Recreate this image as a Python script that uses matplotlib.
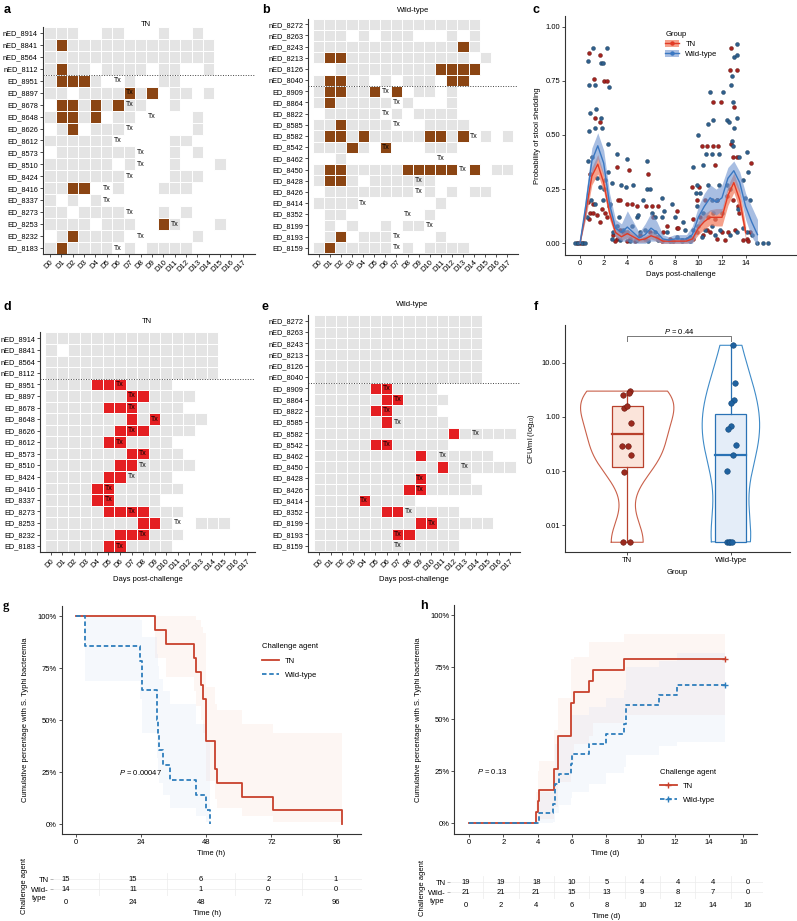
"""Culture results, stool shedding, CFU counts and time to bacteraemia: TN vs wild-type challenge."""
import numpy as np
import matplotlib
matplotlib.use("Agg")
import matplotlib.pyplot as plt
from matplotlib.patches import Rectangle, Patch
from matplotlib.lines import Line2D
from matplotlib.ticker import NullLocator, FixedLocator

plt.rcParams["font.family"] = ["Liberation Sans", "DejaVu Sans"]
plt.rcParams["font.size"] = 5.5
plt.rcParams["mathtext.fontset"] = "custom"
plt.rcParams["mathtext.rm"] = "Liberation Sans"
plt.rcParams["mathtext.it"] = "Liberation Sans:italic"

W, H = 797, 921
DAYS = [f"D{i}" for i in range(18)]

# ── panels a / d: TN participants ('.' no sample, 'g' negative, 'P' positive) ──
TN_IDS = ["nED_8914", "nED_8841", "nED_8564", "nED_8112", "ED_8951", "ED_8897",
          "ED_8678", "ED_8648", "ED_8626", "ED_8612", "ED_8573", "ED_8510",
          "ED_8424", "ED_8416", "ED_8337", "ED_8273", "ED_8253", "ED_8232", "ED_8183"]
TN_STOOL = ["ggg..gg...g..g....", "gPggggggggggggg...", "ggggggggggggggg...",
            "gPgg.gggg.gg..g...", "gPPPg..g..gg......", "gg.ggggPgP.gg.g...",
            ".PPgPgPgg..g......", "gPPgP.gg.....g....", ".gP.ggg......g....",
            "gggggg.....gg.....", ".ggggggg...g.g....", "gggggg.g...g...g..",
            "ggggggg....ggg....", "ggPP..g...ggg.....", "g.g.g.............",
            "gg.gggg...g.g.....", "gggg.ggg..Pg...g..", ".gPgggg......g....",
            "gPgggg.g.gggg....."]
TN_BLOOD = ["ggggggggggggggg...", "g.ggggggggggggg...", "ggggggggggggggg...",
            "ggggggggggggggg...", "ggggPPPgggg.......", "gggggggPPgggg.....",
            "gggggPPPgggg......", "gggggggPgPgggg....", "ggggggPPPgggg.....",
            "gggggPPgggg.......", "gggggggPPggg......", "ggggggPPggggg.....",
            "gggggPPgggg.......", "ggggPPgggggg......", "ggggPPgggg........",
            "gggggPPPPggg......", "ggggggggPPg..ggg..", "ggggggPPPggg......",
            "gggggPPgggg......."]
TN_TX = [None, None, None, None, 6, 7, 7, 9, 7, 6, 8, 8, 7, 5, 5, 7, 11, 8, 6]

# ── panels b / e: wild-type participants ──
WT_IDS = ["nED_8272", "nED_8263", "nED_8243", "nED_8213", "nED_8126", "nED_8040",
          "ED_8909", "ED_8864", "ED_8822", "ED_8585", "ED_8582", "ED_8542",
          "ED_8462", "ED_8450", "ED_8428", "ED_8426", "ED_8414", "ED_8352",
          "ED_8199", "ED_8193", "ED_8159"]
WT_STOOL = ["ggggggggggggggg...", "ggg.g.ggg...g.g...", "gggggggggggggPg...",
            "gPPggggggggggg.g..", "..gggggggggPPPP...", "gPPgg.g.ggg.PP....",
            "gPPggP.P.gg.g.....", "gPggggg.g...g.....", ".ggggg.g.gggg.....",
            "ggPgggg...gggg....", "gPPgPgggggPPgP.g.g", "gggPg.P...ggg.....",
            "..g...............", "gPPgggggPPPPP.P.gg", "gPPg.gggggg.......",
            ".gggggggg.g.g.gg..", "gggg.......g......", ".gg.......g.......",
            ".g.g..g.gg........", ".gP.ggg....g......", "gPggggg.g.gggg...."]
WT_BLOOD = ["ggggggggggggggg...", "ggggggggggggggg...", "ggggggggggggggg...",
            "ggggggggggggggg...", "ggggggggggggggg...", "ggggggggggggggg...",
            "gggggPPgggg.......", "ggggggPPgggg......", "gggggPPgggg.......",
            "ggggggPggggg......", "ggggggggggggPggggg", "gggggPPggggg......",
            "gggggggggPgggggg..", "gggggggggggPgggggg", "gggggggggPgggg....",
            "ggggggggPPggggg...", "ggggPgggg.........", "ggggggPPggggg.....",
            "gggggggggPPggggg..", "gggggggPPgggg.....", "ggggggggggggg....."]
WT_TX = [None] * 6 + [6, 7, 6, 7, 14, 6, 11, 13, 9, 9, 4, 8, 10, 7, 7]

# ── panel c: probability of stool shedding ──
TN_C_DAY = [-0.28, 0.0, 0.28,
            0.79, 1.18, 1.69, 2.03, 2.25, 1.27, 1.69, 0.85, 0.70, 0.85, 1.13, 1.41, 1.69, 0.79, 2.11, 2.31, 1.07, 1.83,
            3.15, 3.24, 3.38, 4.11, 3.94, 4.37, 2.82, 3.10, 3.66, 4.23, 3.38, 2.96, 3.94,
            4.85, 5.58, 5.77, 6.06, 6.62, 6.20, 5.07, 5.49, 5.92, 6.48, 6.90, 4.65, 7.04,
            7.38, 8.23, 8.17, 8.31, 7.61, 8.59, 9.01, 7.89,
            9.44, 10.28, 10.70, 11.27, 11.69, 11.21, 11.89, 11.41, 10.08, 9.86, 10.56, 11.55, 9.58, 10.14, 10.85,
            11.41, 9.86, 10.42, 10.99, 11.55, 11.97, 9.58, 10.70,
            12.76, 12.68, 13.24, 13.01, 12.76, 12.90, 13.24, 12.39, 12.96, 13.38, 13.46, 14.42, 14.37, 14.08,
            12.54, 13.10, 13.80, 12.25, 14.23]
TN_C_PROB = [0, 0, 0,
             0.88, 0.76, 0.87, 0.75, 0.75, 0.58, 0.56, 0.32, 0.19, 0.14, 0.14, 0.13, 0.10, 0.11, 0.14, 0.12, 0.18, 0.16,
             0.35, 0.20, 0.20, 0.34, 0.18, 0.18, 0.04, 0.02, 0.05, 0.02, 0.06, 0.01, 0.01,
             0.17, 0.17, 0.32, 0.17, 0.17, 0.12, 0.04, 0.02, 0.05, 0.03, 0.01, 0.01, 0.05,
             0.08, 0.15, 0.07, 0.07, 0.02, 0.015, 0.02, 0.01,
             0.26, 0.45, 0.45, 0.45, 0.45, 0.65, 0.65, 0.36, 0.26, 0.20, 0.20, 0.20, 0.11, 0.12, 0.12,
             0.11, 0.05, 0.04, 0.05, 0.02, 0.05, 0.02, 0.06,
             0.90, 0.80, 0.80, 0.63, 0.46, 0.40, 0.40, 0.22, 0.20, 0.17, 0.14, 0.37, 0.05, 0.02,
             0.05, 0.06, 0.015, 0.015, 0.01]
WT_C_DAY = [-0.42, -0.14, 0.14, 0.42,
            0.70, 1.07, 0.79, 1.27, 1.75, 1.97, 2.31, 2.45, 0.85, 1.32, 0.79, 1.27, 1.77, 1.83, 2.39,
            0.70, 0.99, 1.41, 1.69, 2.11, 0.56, 0.93, 1.30, 1.92, 2.54, 2.39, 2.03, 2.45,
            3.10, 4.00, 3.44, 3.89, 4.45, 2.70, 3.32, 3.10, 3.66, 3.94, 4.37, 2.82, 3.38, 4.23, 2.68,
            5.69, 5.69, 5.92, 5.35, 6.06, 6.34, 4.79, 4.93, 6.90, 6.90, 5.07, 5.49, 6.34, 6.62, 5.77, 4.79,
            7.75, 7.10, 8.03, 8.68, 8.87, 7.32, 8.17, 8.59, 9.30, 7.61,
            10.00, 10.99, 12.06, 10.85, 11.21, 10.65, 11.13, 11.77, 9.58, 10.42, 9.86, 10.85, 11.77, 9.80, 10.14,
            11.13, 11.55, 9.86, 10.42, 11.27, 11.97, 9.58, 10.00, 10.56, 11.13, 11.83, 10.28, 11.41, 9.30,
            13.24, 13.01, 13.30, 12.76, 12.82, 12.90, 12.39, 12.62, 13.24, 13.01, 12.82, 12.96, 13.46, 14.08, 14.23,
            13.80, 12.39, 12.68, 14.37, 13.38, 13.94, 13.80, 14.08, 14.51, 12.68, 13.24, 14.93, 15.49, 15.92]
WT_C_PROB = [0, 0, 0, 0,
             0.84, 0.90, 0.73, 0.73, 0.83, 0.83, 0.90, 0.72, 0.60, 0.62, 0.52, 0.53, 0.58, 0.53, 0.46,
             0.38, 0.40, 0.30, 0.26, 0.29, 0.12, 0.20, 0.18, 0.20, 0.18, 0.33, 0.25, 0.17,
             0.41, 0.39, 0.27, 0.26, 0.27, 0.28, 0.12, 0.08, 0.06, 0.05, 0.08, 0.05, 0.015, 0.01, 0.02,
             0.38, 0.25, 0.25, 0.20, 0.14, 0.12, 0.12, 0.13, 0.21, 0.12, 0.05, 0.06, 0.05, 0.015, 0.01, 0.015,
             0.18, 0.15, 0.12, 0.10, 0.06, 0.05, 0.03, 0.01, 0.03, 0.01,
             0.50, 0.70, 0.70, 0.55, 0.57, 0.41, 0.41, 0.41, 0.35, 0.36, 0.27, 0.27, 0.27, 0.23, 0.23,
             0.20, 0.20, 0.17, 0.14, 0.14, 0.14, 0.06, 0.08, 0.06, 0.08, 0.06, 0.03, 0.04, 0.01,
             0.92, 0.86, 0.87, 0.73, 0.77, 0.65, 0.57, 0.56, 0.58, 0.53, 0.47, 0.45, 0.40, 0.42, 0.33,
             0.29, 0.27, 0.25, 0.20, 0.16, 0.21, 0.07, 0.05, 0.04, 0.04, 0.05, 0, 0, 0]

# smoothed fits (read every half day)
TN_FIT_DAY = [0, 0.5, 1, 1.5, 2, 2.5, 3, 3.5, 4, 4.5, 5, 5.5, 6, 6.5, 7, 7.5, 8, 8.5, 9, 9.5,
              10, 10.5, 11, 11.5, 12, 12.5, 13, 13.5, 14]
TN_FIT = [0, 0.15, 0.31, 0.365, 0.28, 0.14, 0.05, 0.03, 0.045, 0.03, 0.015, 0.02, 0.035, 0.025, 0.01,
          0.01, 0.01, 0.01, 0.01, 0.02, 0.07, 0.10, 0.12, 0.12, 0.12, 0.22, 0.28, 0.20, 0.05]
TN_FIT_LO = [0, 0.12, 0.27, 0.32, 0.24, 0.11, 0.03, 0.015, 0.025, 0.015, 0.005, 0.005, 0.02, 0.01, 0.0,
             0.0, 0.0, 0.0, 0.0, 0.005, 0.04, 0.065, 0.085, 0.08, 0.08, 0.175, 0.235, 0.155, 0.02]
TN_FIT_HI = [0, 0.18, 0.35, 0.41, 0.32, 0.17, 0.07, 0.045, 0.065, 0.045, 0.025, 0.035, 0.05, 0.04, 0.02,
             0.02, 0.02, 0.02, 0.02, 0.035, 0.10, 0.135, 0.155, 0.16, 0.16, 0.265, 0.325, 0.245, 0.08]
WT_FIT_DAY = [0, 0.5, 1, 1.5, 2, 2.5, 3, 3.5, 4, 4.5, 5, 5.5, 6, 6.5, 7, 7.5, 8, 8.5, 9, 9.5,
              10, 10.5, 11, 11.5, 12, 12.5, 13, 13.5, 14, 14.5, 15]
WT_FIT = [0, 0.18, 0.38, 0.45, 0.37, 0.18, 0.07, 0.05, 0.075, 0.05, 0.025, 0.04, 0.07, 0.05, 0.02, 0.015,
          0.02, 0.02, 0.02, 0.04, 0.12, 0.17, 0.21, 0.19, 0.21, 0.30, 0.335, 0.28, 0.17, 0.10, 0.04]
WT_FIT_LO = [0, 0.13, 0.32, 0.39, 0.31, 0.13, 0.03, 0.01, 0.01, 0.0, 0.0, 0.0, 0.01, 0.01, 0.0, 0.0,
             0.0, 0.0, 0.0, 0.0, 0.07, 0.11, 0.15, 0.13, 0.15, 0.25, 0.29, 0.23, 0.11, 0.03, -0.01]
WT_FIT_HI = [0, 0.23, 0.44, 0.51, 0.43, 0.23, 0.11, 0.09, 0.15, 0.10, 0.05, 0.09, 0.14, 0.10, 0.04, 0.03,
             0.04, 0.04, 0.04, 0.08, 0.17, 0.23, 0.27, 0.25, 0.27, 0.35, 0.38, 0.33, 0.23, 0.17, 0.11]

# ── panel f: CFU/ml ──
TN_CFU = [2.57, 3.0, 2.76, 1.48, 1.59, 0.79, 0.295, 0.295, 0.2, 0.098, 0.0049, 0.0049]
TN_CFU_JIT = [-0.045, 0.026, 0.019, -0.032, 0.0, 0.038, -0.051, 0.006, 0.032, -0.032, -0.038, 0.026]
WT_CFU = [21, 4.3, 2.07, 1.78, 0.69, 0.59, 0.30, 0.20, 0.10, 0.005, 0.005, 0.005, 0.005]
WT_CFU_JIT = [0.019, 0.035, 0.029, 0.003, 0.003, -0.029, 0.045, 0.022, -0.042, -0.042, -0.022, -0.01, 0.01]
BOX_LO = [0.0049, 0.005]
BOX_Q1 = [0.118, 0.005]
BOX_MED = [0.48, 0.20]
BOX_Q3 = [1.57, 1.12]
BOX_HI = [3.0, 21.0]

# ── panel g: time to bacteraemia (h) ──
G_TN_T = [0, 29.0, 33.2, 43.4, 44.3, 46.0, 46.8, 47.8, 51.2, 51.8, 61.0, 72.5, 98.0]
G_TN_S = [100, 93.3, 86.7, 80.0, 73.3, 66.7, 60.0, 40.0, 26.7, 20.0, 13.3, 6.7, 0.0]
G_TN_HI = [100, 100, 100, 100, 98, 95, 92, 66, 58, 55, 48, 44, 44]
G_TN_LO = [100, 80, 71, 64, 57, 50, 44, 21, 12, 8, 4, 1, 1]
G_WT_T = [0, 3.3, 23.5, 24.4, 29.7, 30.0, 30.3, 30.6, 31.9, 34.7, 44.2, 47.7, 49.2]
G_WT_S = [100, 85.7, 78.6, 64.3, 57.1, 50.0, 42.9, 35.7, 28.6, 21.4, 14.3, 7.1, 0.0]
G_WT_HI = [100, 100, 98, 90, 86, 82, 76, 70, 64, 58, 48, 40, 40]
G_WT_LO = [100, 69, 60, 44, 38, 32, 26, 20, 14, 8, 4, 1, 1]
G_RISK_T = [0, 24, 48, 72, 96]
G_RISK_TN = [15, 15, 6, 2, 1]
G_RISK_WT = [14, 11, 1, 0, 0]

# ── panel h: time to bacteraemia (d) ──
H_TN_T = [0, 3.9, 4.0, 4.1, 4.96, 5.2, 5.93, 5.97, 6.1, 7.0, 7.2, 9.05, 14.9]
H_TN_C = [0, 5.3, 10.5, 15.8, 26.3, 42.1, 47.4, 57.9, 63.2, 68.4, 73.7, 78.9, 78.9]
H_TN_HI = [0, 15, 25, 30, 45, 60, 70, 79, 80, 87, 87, 91, 91]
H_TN_LO = [0, 0, 0, 2, 8, 20, 24, 30, 38, 42, 48, 52, 52]
H_WT_T = [0, 4.1, 4.92, 5.0, 5.27, 5.93, 6.03, 7.0, 8.0, 9.05, 9.16, 11.1, 12.1, 14.9]
H_WT_C = [0, 4.8, 9.5, 19.0, 23.8, 28.6, 33.3, 38.1, 42.9, 47.6, 57.1, 61.9, 66.7, 66.7]
H_WT_HI = [0, 15, 23, 38, 42, 48, 52, 56, 60, 64, 75, 78, 82, 82]
H_WT_LO = [0, 0, 0.5, 5, 9, 12, 15, 19, 24, 27, 33, 37, 39, 39]
H_RISK_T = [0, 2, 4, 6, 8, 10, 12, 14, 16]
H_RISK_TN = [19, 19, 18, 10, 5, 4, 4, 4, 0]
H_RISK_WT = [21, 21, 21, 15, 13, 9, 8, 7, 0]

GREY = "#e4e4e4"
BROWN = "#8b4513"
RED = "#e41f22"
TN_COL, WT_COL = "#c8412c", "#2e7ebc"
TN_RIB, WT_RIB = "#f6d5c4", "#cddcf3"
AX_COL = "#333333"

fig = plt.figure(figsize=(W / 100, H / 100), dpi=100)


def add_ax(left, top, right, bottom):
    return fig.add_axes([left / W, 1 - bottom / H, (right - left) / W, (bottom - top) / H])


def ftext(x, y, s, **kw):
    fig.text(x / W, 1 - y / H, s, **kw)


def style(ax):
    for s in ("top", "right"):
        ax.spines[s].set_visible(False)
    for s in ("left", "bottom"):
        ax.spines[s].set_linewidth(0.8)
        ax.spines[s].set_color(AX_COL)
    ax.tick_params(length=2, width=0.6, labelsize=5.5, pad=1.5, color=AX_COL)


def culture_grid(ax, ids, codes, tx, pos_color, n_ctrl, xlim, ylim):
    for r, row in enumerate(codes):
        for c, ch in enumerate(row.ljust(18, ".")):
            if ch == ".":
                continue
            fc = GREY if ch == "g" else pos_color
            ax.add_patch(Rectangle((c - 0.5, r - 0.5), 1, 1, facecolor=fc,
                                   edgecolor="white", linewidth=0.7))
        if tx[r] is not None:
            ax.text(tx[r], r, "Tx", ha="center", va="center", fontsize=5)
    ax.axhline(n_ctrl - 0.5, color="#444444", linestyle=(0, (1, 1.6)), linewidth=0.7)
    ax.set_xlim(*xlim)
    ax.set_ylim(*ylim)
    ax.set_yticks(range(len(ids)))
    ax.set_yticklabels(ids)
    ax.set_xticks(range(18))
    ax.set_xticklabels(DAYS, rotation=45, ha="right", rotation_mode="anchor")
    style(ax)
    ax.tick_params(axis="y", labelsize=5.3)


# a
ax = add_ax(42.7, 27, 255, 254)
culture_grid(ax, TN_IDS, TN_STOOL, TN_TX, BROWN, 4, (-0.65, 18.1), (18.5, -0.5))
ftext(146, 25, "TN", ha="center", va="center")
# b
ax = add_ax(308.3, 18.7, 518, 254)
culture_grid(ax, WT_IDS, WT_STOOL, WT_TX, BROWN, 6, (-0.94, 17.95), (20.56, -0.5))
ftext(413, 10.7, "Wild-type", ha="center", va="center")
# d
ax = add_ax(40, 332.5, 255, 552.3)
culture_grid(ax, TN_IDS, TN_BLOOD, TN_TX, RED, 4, (-0.93, 17.7), (18.54, -0.5))
ax.set_xlabel("Days post-challenge", fontsize=5.5, labelpad=3)
ftext(146.7, 321.7, "TN", ha="center", va="center")
# e
ax = add_ax(308.3, 315.4, 520, 552.3)
culture_grid(ax, WT_IDS, WT_BLOOD, WT_TX, RED, 6, (-0.98, 17.9), (20.6, -0.5))
ax.set_xlabel("Days post-challenge", fontsize=5.5, labelpad=3)
ftext(411.7, 305, "Wild-type", ha="center", va="center")

# c
ax = add_ax(565, 16, 797, 255)
ax.scatter(TN_C_DAY, TN_C_PROB, s=8, c="#a3231f", edgecolors="#5e1410", linewidths=0.3, zorder=2)
ax.scatter(WT_C_DAY, WT_C_PROB, s=8, c="#2f5f8c", edgecolors="#1b3a57", linewidths=0.3, zorder=2)
ax.fill_between(TN_FIT_DAY, TN_FIT_LO, TN_FIT_HI, color="#f2795a", alpha=0.7, lw=0, zorder=3)
ax.fill_between(WT_FIT_DAY, WT_FIT_LO, WT_FIT_HI, color="#6f93cf", alpha=0.6, lw=0, zorder=3)
ax.plot(TN_FIT_DAY, TN_FIT, color="#e23b26", lw=1.0, zorder=4)
ax.plot(WT_FIT_DAY, WT_FIT, color="#3b78c2", lw=1.0, zorder=4)
ax.set_xlim(-1.27, 18.34)
ax.set_ylim(-0.054, 1.049)
ax.set_xticks(range(0, 15, 2))
ax.set_yticks([0, 0.25, 0.5, 0.75, 1.0])
ax.set_yticklabels(["0.00", "0.25", "0.50", "0.75", "1.00"])
ax.set_xlabel("Days post-challenge", fontsize=5.5, labelpad=3)
ax.set_ylabel("Probability of stool shedding", fontsize=5.5, labelpad=3)
style(ax)
handles = [(Patch(facecolor="#f2795a", alpha=0.7), Line2D([], [], color="#e23b26", lw=1.0, marker="o", ms=2.2)),
           (Patch(facecolor="#6f93cf", alpha=0.6), Line2D([], [], color="#3b78c2", lw=1.0, marker="o", ms=2.2))]
leg = ax.legend(handles, ["TN", "Wild-type"], title="Group", loc="upper left", bbox_to_anchor=(0.42, 0.95),
                frameon=False, fontsize=5.5, title_fontsize=5.5, handlelength=1.8, handleheight=1.2,
                labelspacing=0.2, borderaxespad=0)
leg._legend_box.align = "left"

# f
ax = add_ax(565, 325, 790, 552)
ax.set_yscale("log")
tn_log = np.log10(TN_CFU)
wt_log = np.log10(WT_CFU)


def kde(lv, grid):
    n = len(lv)
    iqr = np.subtract(*np.percentile(lv, [75, 25]))
    bw = 0.9 * min(lv.std(ddof=1), iqr / 1.34) * n ** -0.2
    z = (grid[:, None] - lv[None, :]) / bw
    return np.exp(-0.5 * z ** 2).sum(1) / (n * bw * np.sqrt(2 * np.pi))


grids = [np.linspace(v.min(), v.max(), 300) for v in (tn_log, wt_log)]
dens = [kde(v, g) for v, g in zip((tn_log, wt_log), grids)]
dmax = max(d.max() for d in dens)
for i, (g, d, col, fill, ecol, vals, jit) in enumerate([
        (grids[0], dens[0], "#c9604a", "#fbe4da", "#b8402c", TN_CFU, TN_CFU_JIT),
        (grids[1], dens[1], "#3f8bc8", "#e4edf8", "#2a72b5", WT_CFU, WT_CFU_JIT)]):
    x0 = i + 1
    half = 0.45 * d / dmax
    ys = 10 ** g
    ax.plot(np.concatenate([x0 - half, (x0 + half)[::-1], [x0 - half[0]]]),
            np.concatenate([ys, ys[::-1], [ys[0]]]), color=col, lw=0.8)
    ax.add_patch(Rectangle((x0 - 0.15, BOX_Q1[i]), 0.3, BOX_Q3[i] - BOX_Q1[i],
                           facecolor=fill, edgecolor=ecol, lw=0.9, zorder=2))
    ax.plot([x0 - 0.15, x0 + 0.15], [BOX_MED[i]] * 2, color=ecol, lw=1.6, zorder=3)
    ax.plot([x0, x0], [BOX_LO[i], BOX_Q1[i]], color=ecol, lw=0.9, zorder=2)
    ax.plot([x0, x0], [BOX_Q3[i], BOX_HI[i]], color=ecol, lw=0.9, zorder=2)
    pc = "#9b2a1e" if i == 0 else "#1f62a0"
    pe = "#6b1b12" if i == 0 else "#164a7a"
    ax.scatter(np.array(jit) + x0, vals, s=16, c=pc, edgecolors=pe, linewidths=0.4, zorder=4)
ax.plot([1, 1, 2, 2], [25, 31.5, 31.5, 25], color="#777777", lw=0.7)
ax.text(1.5, 38.5, r"$\it{P}$ = 0.44", ha="center", va="center", fontsize=5.5)
ax.set_xlim(0.4, 2.57)
ax.set_ylim(0.00324, 49.7)
ax.yaxis.set_major_locator(FixedLocator([0.01, 0.1, 1, 10]))
ax.yaxis.set_minor_locator(NullLocator())
ax.set_yticklabels(["0.01", "0.10", "1.00", "10.00"])
ax.set_xticks([1, 2])
ax.set_xticklabels(["TN", "Wild-type"])
ax.set_xlabel("Group", fontsize=5.5, labelpad=4)
ax.set_ylabel(r"CFU/ml (log$_{10}$)", fontsize=5.5, labelpad=3)
style(ax)


def risk_table(ax, times, tn, wt, xlim, minor, xlabel):
    for t, a, b in zip(times, tn, wt):
        ax.text(t, 2, str(a), ha="center", va="center", fontsize=5.5)
        ax.text(t, 1, str(b), ha="center", va="center", fontsize=5.5)
    for y in (1, 2):
        ax.axhline(y, color="#ececec", lw=0.5, zorder=0)
    for m in minor:
        ax.axvline(m, color="#ececec", lw=0.5, zorder=0)
    ax.set_xlim(*xlim)
    ax.set_ylim(0.3, 2.6)
    ax.set_xticks(times)
    ax.set_yticks([1, 2])
    ax.set_yticklabels(["Wild-", "TN"])
    for s in ax.spines.values():
        s.set_visible(False)
    ax.tick_params(axis="x", length=0, labelsize=5.5, pad=2)
    ax.tick_params(axis="y", length=2, width=0.5, labelsize=5.5, pad=1, color="#999999")
    ax.set_xlabel(xlabel, fontsize=5.5, labelpad=3)


# g
ax = add_ax(61.7, 606, 361, 834.3)
ax.fill_between(G_TN_T, G_TN_LO, G_TN_HI, step="post", color=TN_RIB, alpha=0.2, lw=0)
ax.fill_between(G_WT_T, G_WT_LO, G_WT_HI, step="post", color=WT_RIB, alpha=0.2, lw=0)
ax.step(G_TN_T, G_TN_S, where="post", color=TN_COL, lw=1.3)
ax.step(G_WT_T, G_WT_S, where="post", color=WT_COL, lw=1.3, linestyle=(0, (2.5, 1.5)))
ax.set_xlim(-5.3, 105)
ax.set_ylim(-4.8, 104.9)
ax.set_xticks(G_RISK_T)
ax.set_yticks([0, 25, 50, 75, 100])
ax.set_yticklabels(["0%", "25%", "50%", "75%", "100%"])
ax.set_xlabel("Time (h)", fontsize=5.5, labelpad=3)
ax.set_ylabel("Cumulative percentage with S. Typhi bacteremia", fontsize=5.5, labelpad=6)
style(ax)
ax.text(16, 25, r"$\it{P}$ = 0.00047", ha="left", va="center", fontsize=5.5)
leg = ax.legend([Line2D([], [], color=TN_COL, lw=1.3),
                 Line2D([], [], color=WT_COL, lw=1.3, linestyle=(0, (2.5, 1.5)))],
                ["TN", "Wild-type"], title="Challenge agent", loc="upper left",
                bbox_to_anchor=(0.66, 0.85), frameon=False, fontsize=5.5, title_fontsize=5.5,
                handlelength=2.2, labelspacing=0.9, borderaxespad=0)
leg._legend_box.align = "left"
ax = add_ax(53, 873, 362, 896)
risk_table(ax, G_RISK_T, G_RISK_TN, G_RISK_WT, (-4.5, 105.3), [12, 36, 60, 84], "Time (h)")
ftext(46.5, 898, "type", ha="right", va="center", fontsize=5.5)
ftext(25, 886, "Challenge agent", rotation=90, ha="center", va="center", fontsize=5.5)

# h
ax = add_ax(454.3, 605, 756.7, 834.3)
ax.fill_between(H_TN_T, H_TN_LO, H_TN_HI, step="post", color=TN_RIB, alpha=0.2, lw=0)
ax.fill_between(H_WT_T, H_WT_LO, H_WT_HI, step="post", color=WT_RIB, alpha=0.2, lw=0)
ax.step(H_TN_T, H_TN_C, where="post", color=TN_COL, lw=1.3)
ax.step(H_WT_T, H_WT_C, where="post", color=WT_COL, lw=1.3, linestyle=(0, (2.5, 1.5)))
ax.plot(H_TN_T[-1], H_TN_C[-1], marker="+", color=TN_COL, ms=5, mew=1.0)
ax.plot(H_WT_T[-1], H_WT_C[-1], marker="+", color=WT_COL, ms=5, mew=1.0)
ax.set_xlim(-0.86, 16.77)
ax.set_ylim(-5.3, 104.95)
ax.set_xticks(H_RISK_T)
ax.set_yticks([0, 25, 50, 75, 100])
ax.set_yticklabels(["0%", "25%", "50%", "75%", "100%"])
ax.set_xlabel("Time (d)", fontsize=5.5, labelpad=3)
ax.set_ylabel("Cumulative percentage with S. Typhi bacteremia", fontsize=5.5, labelpad=6)
style(ax)
ax.text(0.45, 25, r"$\it{P}$ = 0.13", ha="left", va="center", fontsize=5.5)
leg = ax.legend([Line2D([], [], color=TN_COL, lw=1.3, marker="+", ms=5),
                 Line2D([], [], color=WT_COL, lw=1.3, linestyle=(0, (2.5, 1.5)), marker="+", ms=5)],
                ["TN", "Wild-type"], title="Challenge agent", loc="upper left",
                bbox_to_anchor=(0.67, 0.30), frameon=False, fontsize=5.5, title_fontsize=5.5,
                handlelength=2.2, labelspacing=0.9, borderaxespad=0)
leg._legend_box.align = "left"
ax = add_ax(450, 876, 763, 899)
risk_table(ax, H_RISK_T, H_RISK_TN, H_RISK_WT, (-0.89, 16.84), list(range(1, 16, 2)), "Time (d)")
ftext(444, 901, "type", ha="right", va="center", fontsize=5.5)
ftext(423, 888, "Challenge agent", rotation=90, ha="center", va="center", fontsize=5.5)

# panel letters
for lab, x, y, fam in [("a", 7, 10, None), ("b", 266, 10, None), ("c", 536, 10, None),
                       ("d", 7, 307, None), ("e", 265, 307, None), ("f", 536, 307, None),
                       ("g", 6, 606, "Liberation Serif"), ("h", 424, 606, None)]:
    kw = {"family": fam} if fam else {}
    ftext(x, y, lab, fontsize=9, fontweight="bold", ha="center", va="center", **kw)

fig.savefig("out.png", dpi=100)
